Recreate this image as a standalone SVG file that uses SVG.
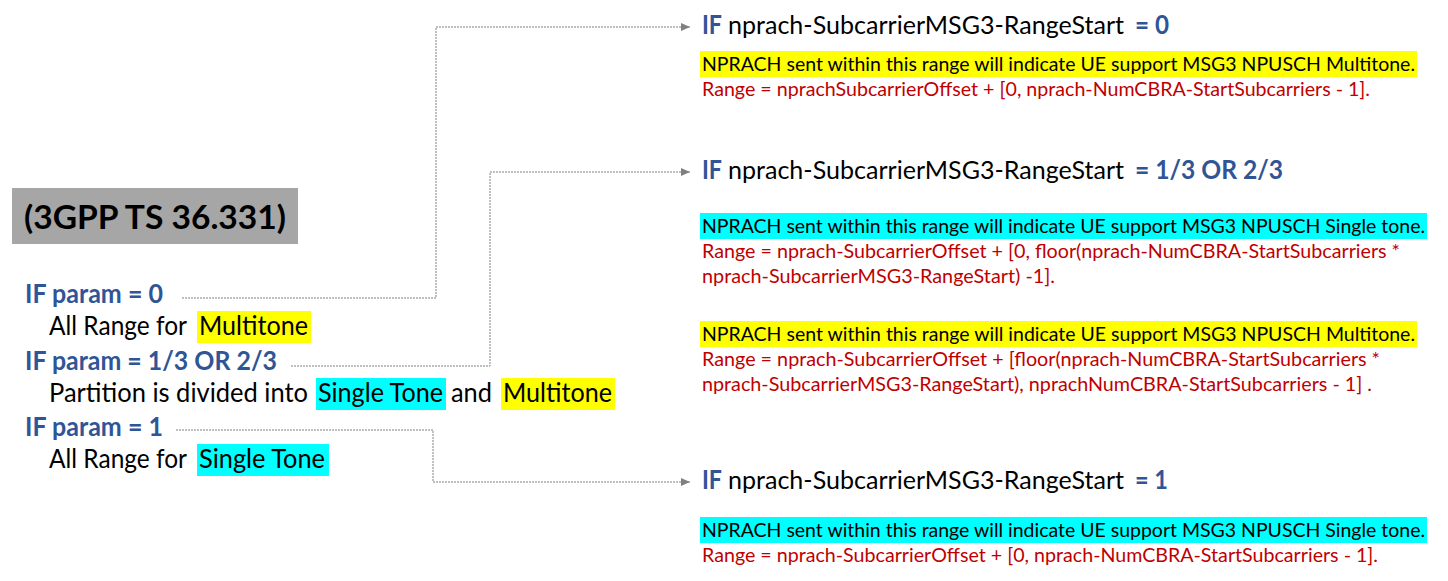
<svg xmlns="http://www.w3.org/2000/svg" width="1448" height="581" viewBox="0 0 1448 581">
<style>
text{font-family:Lato,"Open Sans","Liberation Sans",sans-serif}
.big{font-size:26.67px}
.mid{font-size:25.4px}
.sm{font-size:18.67px}
.b{font-weight:bold}
.blue{fill:#2F5597}
.blk{fill:#000}
.red{fill:#C00000}
.yel{fill:#FFFF00}
.cya{fill:#00FFFF}
.con{fill:none;stroke:#808080;stroke-width:1;stroke-dasharray:2 1}
</style>
<defs>
<marker id="arr" markerUnits="userSpaceOnUse" markerWidth="10" markerHeight="8" refX="9" refY="4" orient="auto">
<path d="M0,0 L9,4 L0,8 z" fill="#808080"/>
</marker>
</defs>
<rect width="1448" height="581" fill="#fff"/>

<g id="connectors">
<path class="con" d="M182,298 H436 V27 H690" marker-end="url(#arr)"/>
<path class="con" d="M291,366 H490 V172 H690" marker-end="url(#arr)"/>
<path class="con" d="M176,430 H433 V482 H690" marker-end="url(#arr)"/>
</g>

<g id="title">
<rect x="12" y="188" width="286" height="56" fill="#A6A6A6"/>
<text x="24" y="229" font-size="32" class="b blk" textLength="262" lengthAdjust="spacingAndGlyphs">(3GPP TS 36.331)</text>
</g>

<g id="param0">
<text x="25" y="303" class="big b blue" textLength="138" lengthAdjust="spacingAndGlyphs">IF param = 0</text>
<rect x="197" y="311" width="114" height="32" class="yel"/>
<text x="49" y="335" class="big blk" textLength="138" lengthAdjust="spacingAndGlyphs">All Range for</text>
<text x="199" y="335" class="big blk" textLength="109" lengthAdjust="spacingAndGlyphs">Multitone</text>
</g>

<g id="param13">
<text x="25" y="370" class="big b blue" textLength="252" lengthAdjust="spacingAndGlyphs">IF param = 1/3 OR 2/3</text>
<rect x="316" y="378" width="130" height="32" class="cya"/>
<rect x="501" y="378" width="114" height="32" class="yel"/>
<text x="49" y="402" class="big blk" textLength="259" lengthAdjust="spacingAndGlyphs">Partition is divided into</text>
<text x="318" y="402" class="big blk" textLength="125" lengthAdjust="spacingAndGlyphs">Single Tone</text>
<text x="451" y="402" class="big blk" textLength="41" lengthAdjust="spacingAndGlyphs">and</text>
<text x="503" y="402" class="big blk" textLength="109" lengthAdjust="spacingAndGlyphs">Multitone</text>
</g>

<g id="param1">
<text x="25" y="436" class="big b blue" textLength="138" lengthAdjust="spacingAndGlyphs">IF param = 1</text>
<rect x="197" y="444" width="132" height="32" class="cya"/>
<text x="49" y="468" class="big blk" textLength="138" lengthAdjust="spacingAndGlyphs">All Range for</text>
<text x="199" y="468" class="big blk" textLength="126" lengthAdjust="spacingAndGlyphs">Single Tone</text>
</g>

<g id="case0">
<text x="702" y="34" class="big b blue" textLength="20" lengthAdjust="spacingAndGlyphs">IF</text>
<text x="728" y="34" class="mid blk" textLength="396" lengthAdjust="spacingAndGlyphs">nprach-SubcarrierMSG3-RangeStart</text>
<text x="1135" y="34" class="big b blue" textLength="34" lengthAdjust="spacingAndGlyphs">= 0</text>
<rect x="700" y="51" width="717" height="26" class="yel"/>
<text x="702" y="71" class="sm blk" textLength="713" lengthAdjust="spacingAndGlyphs">NPRACH sent within this range will indicate UE support MSG3 NPUSCH Multitone.</text>
<text x="702" y="96" class="sm red" textLength="668" lengthAdjust="spacingAndGlyphs">Range = nprachSubcarrierOffset + [0, nprach-NumCBRA-StartSubcarriers - 1].</text>
</g>

<g id="case13">
<text x="702" y="179" class="big b blue" textLength="20" lengthAdjust="spacingAndGlyphs">IF</text>
<text x="728" y="179" class="mid blk" textLength="396" lengthAdjust="spacingAndGlyphs">nprach-SubcarrierMSG3-RangeStart</text>
<text x="1135" y="179" class="big b blue" textLength="148" lengthAdjust="spacingAndGlyphs">= 1/3 OR 2/3</text>
<rect x="700" y="213" width="727" height="26" class="cya"/>
<text x="702" y="233" class="sm blk" textLength="723" lengthAdjust="spacingAndGlyphs">NPRACH sent within this range will indicate UE support MSG3 NPUSCH Single tone.</text>
<text x="702" y="258" class="sm red" textLength="698" lengthAdjust="spacingAndGlyphs">Range = nprach-SubcarrierOffset + [0, floor(nprach-NumCBRA-StartSubcarriers *</text>
<text x="702" y="283" class="sm red" textLength="353" lengthAdjust="spacingAndGlyphs">nprach-SubcarrierMSG3-RangeStart) -1].</text>
<rect x="700" y="321" width="717" height="26" class="yel"/>
<text x="702" y="341" class="sm blk" textLength="713" lengthAdjust="spacingAndGlyphs">NPRACH sent within this range will indicate UE support MSG3 NPUSCH Multitone.</text>
<text x="702" y="366" class="sm red" textLength="678" lengthAdjust="spacingAndGlyphs">Range = nprach-SubcarrierOffset + [floor(nprach-NumCBRA-StartSubcarriers *</text>
<text x="702" y="391" class="sm red" textLength="670" lengthAdjust="spacingAndGlyphs">nprach-SubcarrierMSG3-RangeStart), nprachNumCBRA-StartSubcarriers - 1] .</text>
</g>

<g id="case1">
<text x="702" y="489" class="big b blue" textLength="20" lengthAdjust="spacingAndGlyphs">IF</text>
<text x="728" y="489" class="mid blk" textLength="396" lengthAdjust="spacingAndGlyphs">nprach-SubcarrierMSG3-RangeStart</text>
<text x="1135" y="489" class="big b blue" textLength="33" lengthAdjust="spacingAndGlyphs">= 1</text>
<rect x="700" y="517" width="727" height="26" class="cya"/>
<text x="702" y="537" class="sm blk" textLength="723" lengthAdjust="spacingAndGlyphs">NPRACH sent within this range will indicate UE support MSG3 NPUSCH Single tone.</text>
<text x="702" y="562" class="sm red" textLength="676" lengthAdjust="spacingAndGlyphs">Range = nprach-SubcarrierOffset + [0, nprach-NumCBRA-StartSubcarriers - 1].</text>
</g>
</svg>
